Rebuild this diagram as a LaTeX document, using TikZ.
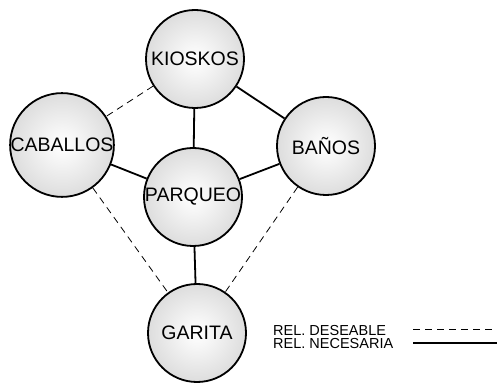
\documentclass[tikz,border=0pt]{standalone}
\usepackage{fontspec}
\setmainfont{Liberation Sans}
\pgfdeclareradialshading{ballshade}{\pgfpoint{0bp}{0bp}}{color(0bp)=(white); color(8bp)=(white!96!black); color(50bp)=(black!27); color(100bp)=(black!27)}
\tikzset{
  place/.style={circle, draw=black, line width=1.8pt, minimum size=98pt, inner sep=0pt, shading=ballshade, font=\fontsize{19.5}{21}\selectfont},
  necesaria/.style={line width=1.8pt},
  deseable/.style={line width=0.8pt, dash pattern=on 7pt off 5pt},
  legendtxt/.style={font=\fontsize{14.5}{13.5}\selectfont, align=left, inner sep=0pt, anchor=west}
}
\begin{document}
\begin{tikzpicture}[x=1pt,y=1pt]
\useasboundingbox (0,0) rectangle (497,385);
\node[place] (K) at (195,326) {KIOSKOS};
\node[place] (C) at (62,240) {CABALLOS};
\node[place] (P) at (193,188) {PARQUEO};
\node[place] (B) at (326,239) {BAÑOS};
\node[place] (G) at (197,52) {GARITA};
\draw[necesaria] (K) -- (P);
\draw[necesaria] (K) -- (B);
\draw[necesaria] (C) -- (P);
\draw[necesaria] (P) -- (B);
\draw[necesaria] (P) -- (G);
\draw[deseable] (K) -- (C);
\draw[deseable] (C) -- (G);
\draw[deseable] (B) -- (G);
\node[legendtxt] (L) at (273,48) {REL. DESEABLE\\REL. NECESARIA};
\coordinate (d1) at (413,55);
\coordinate (d2) at (497,55);
\coordinate (n1) at (413,42);
\coordinate (n2) at (497,42);
\draw[deseable, line width=1pt] (d1) -- (d2);
\draw[necesaria, line width=2.2pt] (n1) -- (n2);
\end{tikzpicture}
\end{document}
